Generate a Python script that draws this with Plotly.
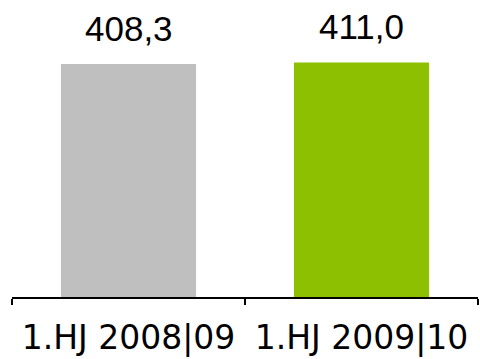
import plotly.graph_objects as go

# Half-year revenue comparison
categories = ["1.HJ 2008|09", "1.HJ 2009|10"]
values = [408.3, 411.0]
colors = ["#BFBFBF", "#8DC000"]

fig = go.Figure(
    go.Bar(
        x=categories,
        y=values,
        marker=dict(color=colors, line=dict(width=0)),
        width=0.58,
        hoverinfo="skip",
    )
)

# value labels above each bar, German decimal comma
for cat, v in zip(categories, values):
    fig.add_annotation(
        x=cat, y=v, yref="y", xref="x",
        text=f"{v:.1f}".replace(".", ","),
        showarrow=False, yanchor="bottom", yshift=14,
        font=dict(family="Liberation Sans", size=35, color="#000000"),
    )

fig.update_layout(
    width=480, height=359,
    margin=dict(l=12, r=2, t=0, b=62),
    paper_bgcolor="white", plot_bgcolor="white",
    showlegend=False,
    xaxis=dict(
        range=[-0.5, 1.5],
        showline=True, linecolor="#000000", linewidth=1.5,
        ticks="outside", tickson="boundaries", ticklen=6,
        tickwidth=1.5, tickcolor="#000000",
        ticklabelstandoff=11,
        showgrid=False, zeroline=False,
        tickfont=dict(family="DejaVu Sans", size=33, color="#000000"),
    ),
    yaxis=dict(
        range=[0, 520.4], visible=False, showgrid=False, zeroline=False,
    ),
)

fig.write_html("out.html")
